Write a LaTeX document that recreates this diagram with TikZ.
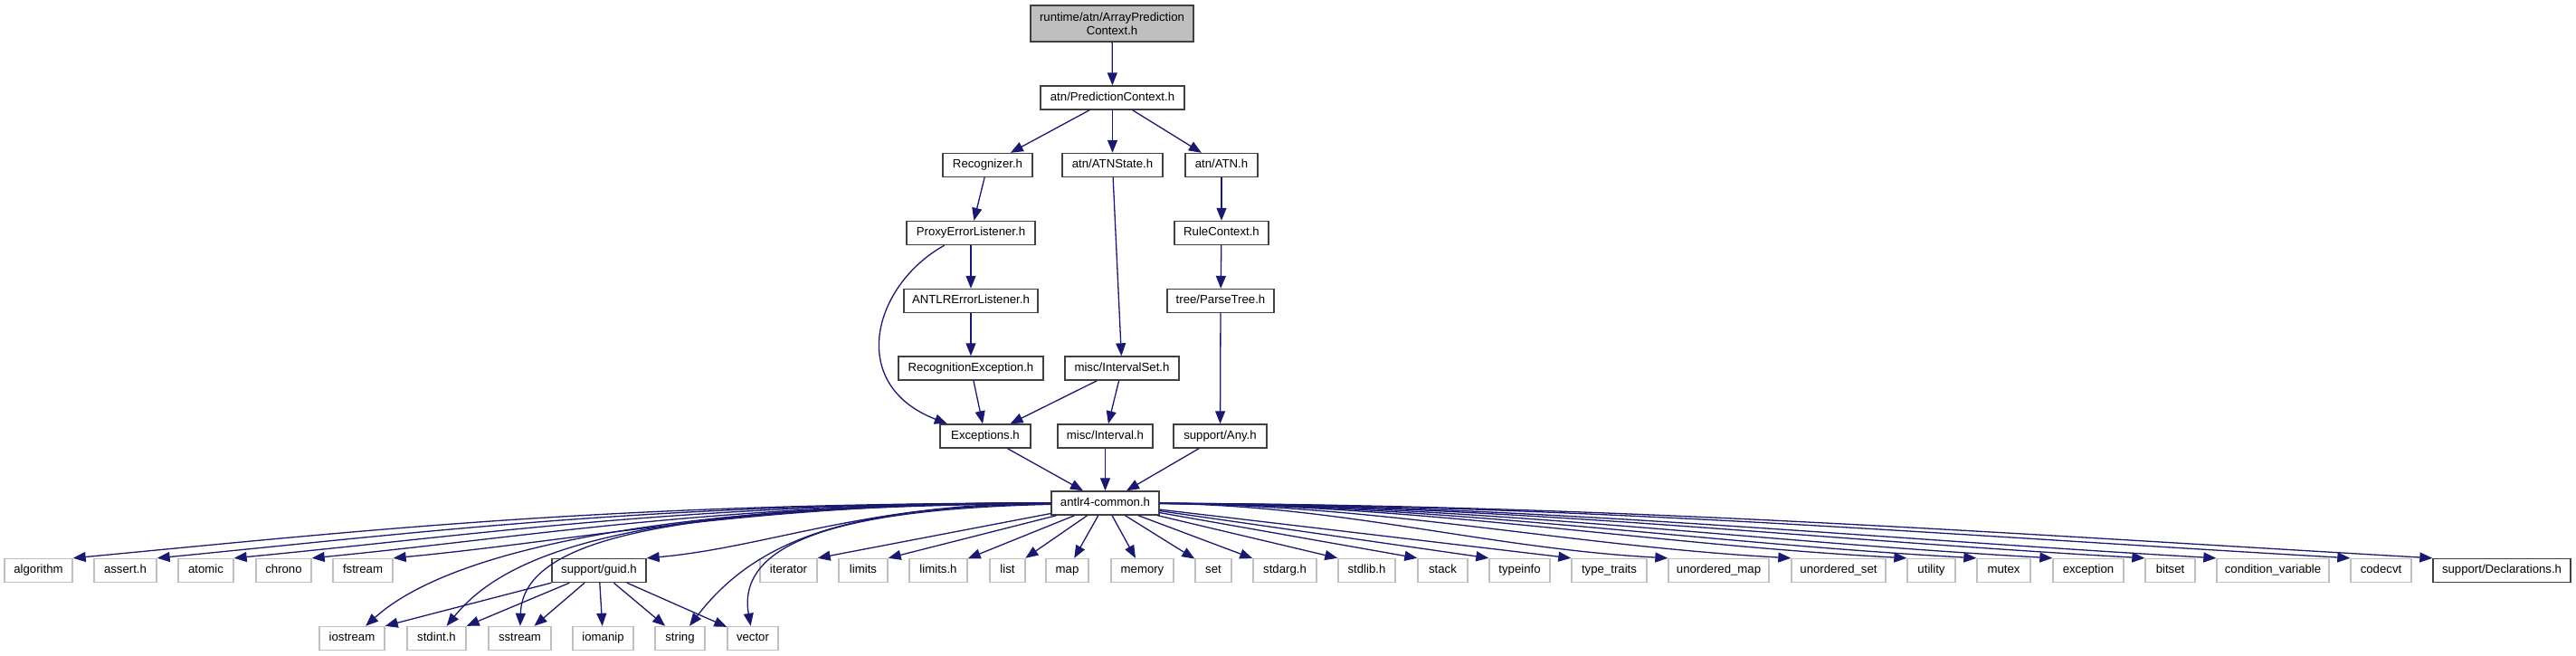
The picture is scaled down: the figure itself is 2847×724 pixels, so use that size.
\documentclass[tikz,border=0pt]{standalone}
\usepackage{fontspec}
\setmainfont{Liberation Sans}
\usepackage{xcolor}
\definecolor{dxedge}{RGB}{25, 25, 112}
\definecolor{dxframe}{RGB}{64, 64, 64}
\definecolor{dxsys}{RGB}{191, 191, 191}
\definecolor{dxroot}{RGB}{191, 191, 191}
\usetikzlibrary{arrows.meta}
\newcommand{\dxfont}{\fontsize{13.2pt}{15pt}\selectfont}

\begin{document}
\begin{tikzpicture}[x=1pt, y=-1pt, >={Triangle[length=14pt, width=11pt]},
    box/.style={rectangle, inner sep=0pt, minimum height=26pt, font=\dxfont,
        line width=1.4pt, fill=white},
    hdr/.style={box, draw=dxframe, text height=9.5pt, text depth=2.8pt},
    sys/.style={box, draw=dxsys, text height=9.5pt, text depth=2.8pt},
    rootfile/.style={box, draw=dxframe, fill=dxroot, align=center, minimum height=40pt},
    dep/.style={->, draw=dxedge, line width=1.3pt}]

\useasboundingbox (0, 0) rectangle (2847, 724);

% === Cabeceras del proyecto (parte superior) ===
\node[rootfile, minimum width=180pt] (root) at (1229, 26)
    {runtime/atn/ArrayPrediction\\Context.h};
\node[hdr, minimum width=159pt] (pctx) at (1229.5, 108) {atn/PredictionContext.h};

\node[hdr, minimum width=99pt] (recog) at (1091.5, 182.5) {Recognizer.h};
\node[hdr, minimum width=111pt] (atnstate) at (1229.5, 182.5) {atn/ATNState.h};
\node[hdr, minimum width=80pt] (atn) at (1350, 182.5) {atn/ATN.h};

\node[hdr, minimum width=142pt] (proxy) at (1073, 257.5) {ProxyErrorListener.h};
\node[hdr, minimum width=104pt] (rulectx) at (1350, 257.5) {RuleContext.h};

\node[hdr, minimum width=148pt] (errlist) at (1073, 332.5) {ANTLRErrorListener.h};
\node[hdr, minimum width=118pt] (parsetree) at (1349, 332.5) {tree/ParseTree.h};

\node[hdr, minimum width=160pt] (recexc) at (1073, 407) {RecognitionException.h};
\node[hdr, minimum width=126pt] (ivset) at (1240, 407) {misc/IntervalSet.h};

\node[hdr, minimum width=100pt] (excs) at (1089, 482) {Exceptions.h};
\node[hdr, minimum width=105pt] (interval) at (1221.5, 482) {misc/Interval.h};
\node[hdr, minimum width=103pt] (anyh) at (1348.5, 482) {support/Any.h};

\node[hdr, minimum width=119pt] (common) at (1221.5, 556) {antlr4-common.h};

% === Primera fila de includes ===
\node[sys, minimum width=75pt] (algorithm) at (42.5, 630.5) {algorithm};
\node[sys, minimum width=69pt] (asserth) at (138.5, 630.5) {assert.h};
\node[sys, minimum width=61pt] (atomic) at (227.5, 630.5) {atomic};
\node[sys, minimum width=61pt] (chrono) at (313.5, 630.5) {chrono};
\node[sys, minimum width=66pt] (fstream) at (401, 630.5) {fstream};
\node[hdr, minimum width=104pt] (guid) at (662, 630.5) {support/guid.h};
\node[sys, minimum width=63pt] (iterator) at (871.5, 630.5) {iterator};
\node[sys, minimum width=54pt] (limits) at (954, 630.5) {limits};
\node[sys, minimum width=64pt] (limitsh) at (1037, 630.5) {limits.h};
\node[sys, minimum width=39pt] (list) at (1113.5, 630.5) {list};
\node[sys, minimum width=47pt] (map) at (1179.5, 630.5) {map};
\node[sys, minimum width=69pt] (memory) at (1262.5, 630.5) {memory};
\node[sys, minimum width=40pt] (set) at (1341, 630.5) {set};
\node[sys, minimum width=70pt] (stdarg) at (1420, 630.5) {stdarg.h};
\node[sys, minimum width=63pt] (stdlib) at (1510.5, 630.5) {stdlib.h};
\node[sys, minimum width=55pt] (stack) at (1594.5, 630.5) {stack};
\node[sys, minimum width=67pt] (typeinfo) at (1679.5, 630.5) {typeinfo};
\node[sys, minimum width=83pt] (typetraits) at (1778.5, 630.5) {type\_traits};
\node[sys, minimum width=111pt] (umap) at (1899.5, 630.5) {unordered\_map};
\node[sys, minimum width=104pt] (uset) at (2032, 630.5) {unordered\_set};
\node[sys, minimum width=53pt] (utility) at (2134.5, 630.5) {utility};
\node[sys, minimum width=59pt] (mutex) at (2214.5, 630.5) {mutex};
\node[sys, minimum width=78pt] (exception) at (2308, 630.5) {exception};
\node[sys, minimum width=55pt] (bitset) at (2398.5, 630.5) {bitset};
\node[sys, minimum width=124pt] (condvar) at (2512, 630.5) {condition\_variable};
\node[sys, minimum width=67pt] (codecvt) at (2631.5, 630.5) {codecvt};
\node[hdr, minimum width=152pt] (decls) at (2765, 630.5) {support/Declarations.h};

% === Segunda fila (compartida con support/guid.h) ===
\node[sys, minimum width=72pt] (iostream) at (389, 705.5) {iostream};
\node[sys, minimum width=65pt] (stdint) at (482.5, 705.5) {stdint.h};
\node[sys, minimum width=69pt] (sstream) at (574.5, 705.5) {sstream};
\node[sys, minimum width=67pt] (iomanip) at (666.5, 705.5) {iomanip};
\node[sys, minimum width=55pt] (string) at (751.5, 705.5) {string};
\node[sys, minimum width=56pt] (vector) at (832, 705.5) {vector};

% === Dependencias de la parte superior ===
\draw[dep] (root) -- (pctx);
\draw[dep] (pctx) -- (recog);
\draw[dep] (pctx) -- (atnstate);
\draw[dep] (pctx) -- (atn);
\draw[dep] (recog) -- (proxy);
\draw[dep] (atnstate) -- (ivset);
\draw[dep] (atn) -- (rulectx);
\draw[dep] (proxy) -- (errlist);
\draw[dep] (proxy.205) .. controls (965, 315) and (935, 425) .. (excs.162);
\draw[dep] (rulectx) -- (parsetree);
\draw[dep] (errlist) -- (recexc);
\draw[dep] (parsetree) -- (anyh);
\draw[dep] (recexc) -- (excs);
\draw[dep] (ivset) -- (excs);
\draw[dep] (ivset) -- (interval);
\draw[dep] (excs) -- (common);
\draw[dep] (interval) -- (common);
\draw[dep] (anyh) -- (common);

% === antlr4-common.h hacia la izquierda ===
\draw[dep] (common) .. controls (675, 556) and (405, 586) .. (algorithm.north east);
\draw[dep] (common) .. controls (717, 556) and (470, 588) .. (asserth.north east);
\draw[dep] (common) .. controls (755, 556) and (529, 591) .. (atomic.north east);
\draw[dep] (common) .. controls (794, 556) and (589, 593) .. (chrono.north east);
\draw[dep] (common) .. controls (834, 556) and (652, 596) .. (fstream.north east);
\draw[dep] (common) .. controls (960, 556) and (848, 605) .. (guid.north east);

% Curvas hacia la segunda fila
\draw[dep] (common) .. controls (750, 556) and (500, 605) .. (iostream);
\draw[dep] (common) .. controls (700, 556) and (560, 610) .. (stdint);
\draw[dep] (common) .. controls (760, 560) and (578, 590) .. (sstream);
\draw[dep] (common) .. controls (950, 560) and (840, 590) .. (string);
\draw[dep] (common) .. controls (960, 562) and (812, 590) .. (vector);

% === Abanico bajo antlr4-common.h ===
\draw[dep] (common) -- (iterator.north east);
\draw[dep] (common) -- (limits.north east);
\draw[dep] (common) -- (limitsh);
\draw[dep] (common) -- (list);
\draw[dep] (common) -- (map);
\draw[dep] (common) -- (memory);
\draw[dep] (common) -- (set);
\draw[dep] (common) -- (stdarg);
\draw[dep] (common) -- (stdlib.north west);
\draw[dep] (common) -- (stack.north west);
\draw[dep] (common) -- (typeinfo.north west);
\draw[dep] (common) -- (typetraits.north west);

% === antlr4-common.h hacia la derecha ===
\draw[dep] (common) .. controls (1481, 558) and (1644, 606) .. (umap.north west);
\draw[dep] (common) .. controls (1529, 558) and (1732, 603) .. (uset.north west);
\draw[dep] (common) .. controls (1575, 558) and (1814, 601) .. (utility.north west);
\draw[dep] (common) .. controls (1602, 558) and (1864, 599) .. (mutex.north west);
\draw[dep] (common) .. controls (1632, 558) and (1918, 597) .. (exception.north west);
\draw[dep] (common) .. controls (1668, 558) and (1984, 595) .. (bitset.north west);
\draw[dep] (common) .. controls (1696, 558) and (2035, 593) .. (condvar.north west);
\draw[dep] (common) .. controls (1749, 558) and (2130, 590) .. (codecvt.north west);
\draw[dep] (common) .. controls (1781, 558) and (2189, 588) .. (decls.north west);

% === support/guid.h ===
\draw[dep] (guid) -- (iostream.north east);
\draw[dep] (guid) -- (stdint.north east);
\draw[dep] (guid) -- (sstream);
\draw[dep] (guid) -- (iomanip);
\draw[dep] (guid) -- (string);
\draw[dep] (guid) -- (vector);

\end{tikzpicture}
\end{document}
